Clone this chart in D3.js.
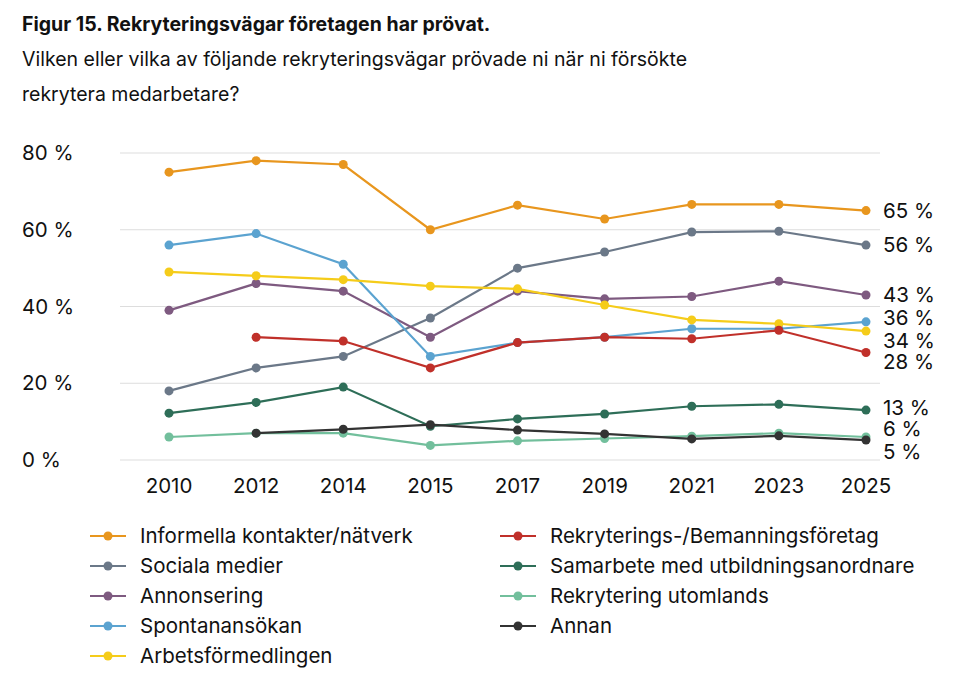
<!DOCTYPE html><html><head><meta charset="utf-8"><script src="https://cdn.jsdelivr.net/npm/d3@7"></script>
<style>body{margin:0;background:#fff;font-family:Inter,"Noto Sans",sans-serif}</style></head><body><svg id="c" width="960" height="684"></svg>
<script>
const years=["2010","2012","2014","2015","2017","2019","2021","2023","2025"];
const yTicks=[0,20,40,60,80];
const names=["Informella kontakter/nätverk","Sociala medier","Annonsering","Spontanansökan","Arbetsförmedlingen","Rekryterings-/Bemanningsföretag","Samarbete med utbildningsanordnare","Rekrytering utomlands","Annan"];
const colors=["#e8961e","#6b7888","#7e5a80","#5ba3d0","#f5cc1a","#c0302a","#2e6e58","#72bf9c","#333333"];
const informella=[75,78,77,60,66.4,62.8,66.6,66.6,65];
const sociala=[18,24,27,37,50,54.2,59.4,59.6,56];
const annonsering=[39,46,44,32,44,42,42.6,46.6,43];
const spontan=[56,59,51,27,30.6,32,34.2,34.2,36];
const arbetsf=[49,48,47,45.3,44.6,40.4,36.5,35.5,33.6];
const rekryt=[null,32,31,24,30.6,32,31.6,33.8,28];
const samarbete=[12.2,15,19,8.8,10.7,12,14,14.5,13];
const utomlands=[6,7,7,3.8,5,5.6,6.2,7,6];
const annan=[null,7,8,9.2,7.8,6.8,5.5,6.3,5.2];
const series=[informella,sociala,annonsering,spontan,arbetsf,rekryt,samarbete,utomlands,annan];
const endLabels=[["65 %",65],["56 %",56],["43 %",43],["36 %",37],["34 %",31],["28 %",25.5],["13 %",13.5],["6 %",8],["5 %",2.2]];
const svg=d3.select("#c");
svg.append("text").attr("x",22).attr("y",31).attr("font-size",19.5).attr("font-weight",700).attr("fill","#111").text("Figur 15. Rekryteringsvägar företagen har prövat.");
svg.append("text").attr("x",22).attr("y",66).attr("font-size",19.5).attr("fill","#111").text("Vilken eller vilka av följande rekryteringsvägar prövade ni när ni försökte");
svg.append("text").attr("x",22).attr("y",101).attr("font-size",19.5).attr("fill","#111").text("rekrytera medarbetare?");
const x=d3.scalePoint().domain(years).range([169,866]);
const y=d3.scaleLinear().domain([0,80]).range([460,153]);
const g=svg.append("g");
yTicks.forEach(t=>{
 g.append("line").attr("x1",120).attr("x2",880).attr("y1",y(t)).attr("y2",y(t)).attr("stroke","#ddd");
 g.append("text").attr("x",22).attr("y",y(t)+7).attr("font-size",20.5).attr("fill","#111").text(t+" %");
});
years.forEach(yr=>g.append("text").attr("x",x(yr)).attr("y",493).attr("text-anchor","middle").attr("font-size",20.5).attr("fill","#111").text(yr));
const line=d3.line().defined(d=>d!=null).x((d,i)=>x(years[i])).y(d=>y(d));
series.forEach((s,k)=>{
 g.append("path").attr("d",line(s)).attr("fill","none").attr("stroke",colors[k]).attr("stroke-width",2.2);
 s.forEach((v,i)=>{if(v!=null)g.append("circle").attr("cx",x(years[i])).attr("cy",y(v)).attr("r",4.5).attr("fill",colors[k]);});
});
endLabels.forEach(([t,v])=>g.append("text").attr("x",883).attr("y",y(v)+7).attr("font-size",20.5).attr("fill","#111").text(t));
const legPos=[[0,0],[0,1],[0,2],[0,3],[0,4],[1,0],[1,1],[1,2],[1,3]];
names.forEach((n,k)=>{
 const [c,r]=legPos[k];const lx=c?500:90, ly=536+r*30;
 g.append("line").attr("x1",lx).attr("x2",lx+36).attr("y1",ly).attr("y2",ly).attr("stroke",colors[k]).attr("stroke-width",2.2);
 g.append("circle").attr("cx",lx+18).attr("cy",ly).attr("r",4.5).attr("fill",colors[k]);
 g.append("text").attr("x",lx+50).attr("y",ly+7).attr("font-size",20.5).attr("fill","#111").text(n);
});
</script></body></html>
